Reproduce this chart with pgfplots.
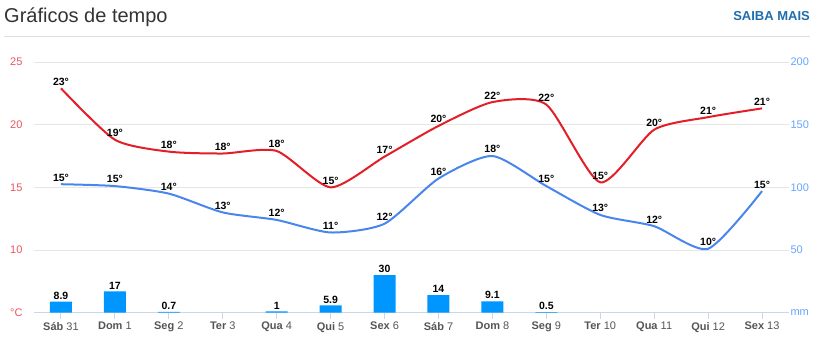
\documentclass[border=0pt]{standalone}
\usepackage{fontspec}
\setmainfont{Liberation Sans}
\usepackage{pgfplots}
\usepackage{pgfplotstable}
\pgfplotsset{compat=1.18}
\definecolor{tmax}{RGB}{226,30,40}
\definecolor{tmin}{RGB}{72,133,237}
\definecolor{rain}{RGB}{0,150,255}
\definecolor{ltick}{RGB}{235,85,95}
\definecolor{rtick}{RGB}{100,165,255}
\definecolor{gridc}{RGB}{230,230,230}
\definecolor{axisc}{RGB}{204,214,235}
\definecolor{labc}{RGB}{85,85,85}
\definecolor{titlec}{RGB}{51,51,51}
\definecolor{linkc}{RGB}{30,110,175}

\pgfplotstableread{
x tmax tmaxl tmin tminl
0 22.9 23 15.25 15
1 18.8 19 15.1 15
2 17.85 18 14.5 14
3 17.7 18 13.0 13
4 17.9 18 12.4 12
5 15.0 15 11.4 11
6 17.45 17 12.1 12
7 19.9 20 15.7 16
8 21.8 22 17.5 18
9 21.6 22 15.1 15
10 15.4 15 12.8 13
11 19.6 20 11.9 12
12 20.6 21 10.1 10
13 21.3 21 14.7 15
}\tempdata

\pgfplotstableread{
x rain rainl
0 8.9 8.9
1 17 17
2 0.7 0.7
4 1 1
5 5.9 5.9
6 30 30
7 14 14
8 9.1 9.1
9 0.5 0.5
}\raindata

\begin{document}
\begin{tikzpicture}[x=1pt,y=1pt]
\path[use as bounding box] (0,0) rectangle (818,339);
\node[anchor=base west, inner sep=0pt, text=titlec, font=\fontsize{20}{24}\selectfont] at (4,316) {Gráficos de tempo};
\node[anchor=base east, inner sep=0pt, text=linkc, font=\fontsize{13}{15}\selectfont\bfseries] at (810,318) {SAIBA MAIS};
\draw[color={rgb,255:red,222;green,222;blue,222}, line width=1pt] (4,302) -- (810,302);

\begin{axis}[
  at={(34pt,26.3pt)}, anchor=south west,
  scale only axis, width=755pt, height=250.7pt,
  xmin=-0.5, xmax=13.5, ymin=5, ymax=25,
  axis x line*=bottom, axis y line*=left,
  y axis line style={draw=none},
  x axis line style={draw=axisc, line width=1pt, -},
  ytick={5,10,15,20,25}, yticklabels={°C,10,15,20,25},
  ymajorgrids, grid style={draw=gridc, line width=0.8pt},
  ytick style={draw=none},
  yticklabel style={text=ltick, font=\fontsize{11}{13}\selectfont, xshift=-2pt},
  xtick={0,...,13},
  xticklabels={{\textbf{Sáb} 31},{\textbf{Dom} 1},{\textbf{Seg} 2},{\textbf{Ter} 3},{\textbf{Qua} 4},{\textbf{Qui} 5},{\textbf{Sex} 6},{\textbf{Sáb} 7},{\textbf{Dom} 8},{\textbf{Seg} 9},{\textbf{Ter} 10},{\textbf{Qua} 11},{\textbf{Qui} 12},{\textbf{Sex} 13}},
  xticklabel style={text=labc, font=\fontsize{11}{13}\selectfont},
  tick align=outside, major tick length=6pt,
  xtick style={draw=axisc, line width=1pt},
  clip=false,
  nodes near coords style={font=\fontsize{10.5}{12}\selectfont\bfseries, text=black, inner sep=2pt},
]
\addplot[tmax, line width=2pt, smooth, tension=0.4, no markers,
  point meta=explicit symbolic, nodes near coords={\pgfplotspointmeta°}]
  table[x=x, y=tmax, meta=tmaxl] {\tempdata};
\addplot[tmin, line width=2pt, smooth, tension=0.4, no markers,
  point meta=explicit symbolic, nodes near coords={\pgfplotspointmeta°}]
  table[x=x, y=tmin, meta=tminl] {\tempdata};
\end{axis}

\begin{axis}[
  at={(34pt,26.3pt)}, anchor=south west,
  scale only axis, width=755pt, height=250.7pt,
  xmin=-0.5, xmax=13.5, ymin=0, ymax=200,
  axis x line=none, axis y line*=right,
  y axis line style={draw=none},
  ytick={0,50,100,150,200}, yticklabels={mm,50,100,150,200},
  ytick style={draw=none},
  yticklabel style={text=rtick, font=\fontsize{11}{13}\selectfont, anchor=west, xshift=-2pt},
  clip=false,
]
\addplot[ybar, bar width=22pt, bar shift=0pt, fill=rain, draw=none,
  point meta=explicit symbolic,
  nodes near coords={\pgfplotspointmeta},
  nodes near coords style={font=\fontsize{10.5}{12}\selectfont\bfseries, text=black, inner sep=2pt}]
  table[x=x, y=rain, meta=rainl] {\raindata};
\end{axis}
\end{tikzpicture}
\end{document}
